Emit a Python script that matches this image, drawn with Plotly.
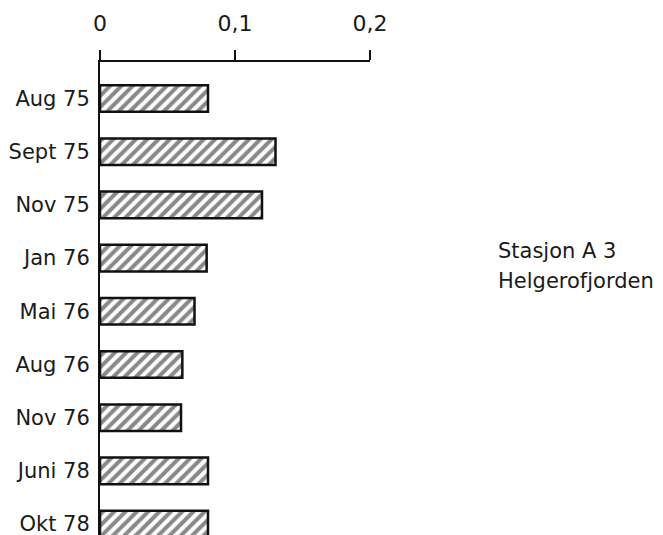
import plotly.graph_objects as go

categories = ["Aug 75", "Sept 75", "Nov 75", "Jan 76", "Mai 76",
              "Aug 76", "Nov 76", "Juni 78", "Okt 78"]
values = [0.080, 0.130, 0.120, 0.079, 0.070, 0.061, 0.060, 0.080, 0.080]
tick_vals = [0, 0.1, 0.2]
tick_text = ["0", "0,1", "0,2"]
note_lines = ["Stasjon A 3", "Helgerofjorden"]

W, H = 663, 535
OFF = 8  # page body margin
L, T = 100 - OFF, 62 - OFF
PW, PH = 270, 473
R = W - L - PW
B = H - T - PH

fig = go.Figure(go.Bar(
    x=values, y=categories, orientation="h", width=0.5,
    marker=dict(color="white",
                line=dict(color="#111111", width=2.5),
                pattern=dict(shape="/", fgcolor="#111111", bgcolor="white",
                             size=8, solidity=0.5)),
))

font_family = "DejaVu Sans"
fig.update_layout(
    width=W, height=H,
    margin=dict(l=L, r=R, t=T, b=B, pad=0, autoexpand=False),
    plot_bgcolor="white", paper_bgcolor="white",
    showlegend=False,
    font=dict(family=font_family, color="#1a1a1a", size=20),
)
fig.update_xaxes(
    side="top", range=[0, 0.2], automargin=False,
    tickvals=tick_vals, ticktext=tick_text,
    showline=True, linecolor="#111111", linewidth=2,
    ticks="outside", ticklen=10, tickwidth=2, tickcolor="#111111",
    showgrid=False, zeroline=False,
    tickfont=dict(size=22, family=font_family),
    ticklabelstandoff=10,
)
fig.update_yaxes(
    type="category", categoryorder="array", categoryarray=categories,
    range=[8.205, -0.686], automargin=False,
    showline=True, linecolor="#111111", linewidth=2,
    ticks="", showgrid=False, zeroline=False,
    tickfont=dict(size=21, family=font_family),
    ticklabelstandoff=4,
)

for txt, ypix in zip(note_lines, [251, 281]):
    fig.add_annotation(
        text=txt, xref="paper", yref="paper",
        x=(496 - 100) / PW, y=1 - (ypix - 62) / PH,
        xanchor="left", yanchor="middle", showarrow=False,
        font=dict(size=21, family=font_family, color="#1a1a1a"),
    )

fig.write_html("out.html")
